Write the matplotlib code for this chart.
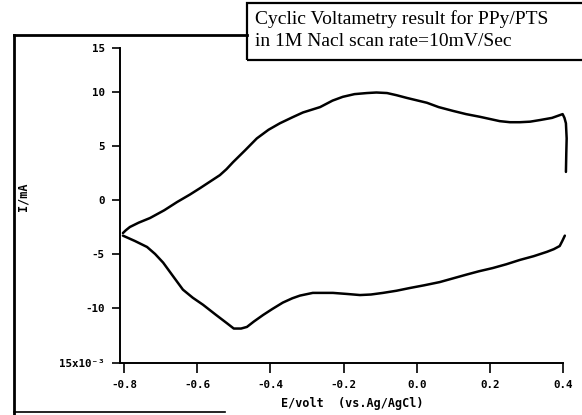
import matplotlib
matplotlib.use("Agg")
import matplotlib.pyplot as plt
from matplotlib.lines import Line2D
from matplotlib.patches import Rectangle

# Forward (anodic) sweep: potential (V) and current (mA)
fwd_E = [-0.803, -0.795, -0.784, -0.760, -0.729, -0.690, -0.655, -0.620, -0.592,
         -0.565, -0.538, -0.520, -0.502, -0.469, -0.437, -0.405, -0.374, -0.340,
         -0.311, -0.264, -0.230, -0.202, -0.170, -0.136, -0.110, -0.081, -0.055,
         -0.027, 0.028, 0.060, 0.099, 0.135, 0.173, 0.200, 0.227, 0.255, 0.282,
         0.310, 0.337, 0.370, 0.399, 0.404, 0.408, 0.410, 0.409, 0.408]
fwd_I = [-3.06, -2.8, -2.5, -2.1, -1.67, -0.95, -0.19, 0.5, 1.1,
         1.7, 2.3, 2.85, 3.5, 4.6, 5.7, 6.5, 7.1, 7.65,
         8.1, 8.6, 9.2, 9.55, 9.8, 9.9, 9.95, 9.9, 9.7,
         9.45, 9.0, 8.6, 8.25, 7.95, 7.7, 7.5, 7.3, 7.2, 7.2,
         7.25, 7.4, 7.6, 7.95, 7.6, 7.1, 5.7, 4.35, 2.6]

# Reverse (cathodic) sweep
rev_E = [0.405, 0.398, 0.391, 0.375, 0.356, 0.320, 0.282, 0.245, 0.208, 0.170,
         0.137, 0.100, 0.063, 0.020, -0.019, -0.055, -0.092, -0.125, -0.155,
         -0.190, -0.229, -0.284, -0.319, -0.340, -0.366, -0.395, -0.420, -0.445,
         -0.464, -0.480, -0.500, -0.519, -0.550, -0.584, -0.612, -0.639, -0.665,
         -0.693, -0.715, -0.737, -0.770, -0.803]
rev_I = [-3.3, -3.8, -4.26, -4.55, -4.8, -5.2, -5.55, -5.95, -6.3, -6.6,
         -6.9, -7.25, -7.6, -7.9, -8.15, -8.4, -8.6, -8.75, -8.8,
         -8.7, -8.6, -8.6, -8.85, -9.1, -9.5, -10.1, -10.65, -11.25,
         -11.75, -11.9, -11.9, -11.4, -10.6, -9.7, -9.05, -8.3, -7.1,
         -5.8, -5.0, -4.35, -3.8, -3.3]

x_ticks = [-0.8, -0.6, -0.4, -0.2, 0.0, 0.2, 0.4]
x_tick_labels = ["-0.8", "-0.6", "-0.4", "-0.2", "0.0", "0.2", "0.4"]
y_top, y_bottom = 14.07, -15.09
y_ticks = [y_top, 10, 5, 0, -5, -10, y_bottom]
y_tick_labels = ["15", "10", "5", "0", "-5", "-10", "15x10\u207b\u00b3"]

title_lines = ["Cyclic Voltametry result for PPy/PTS", "in 1M Nacl scan rate=10mV/Sec"]
x_label = "E/volt  (vs.Ag/AgCl)"
y_label = "I/mA"

W, H = 582, 415
fig = plt.figure(figsize=(W / 100, H / 100), dpi=100)
ax = fig.add_axes([120 / W, 1 - 363 / H, (563 - 120) / W, (363 - 48) / H])

ax.plot(fwd_E, fwd_I, color="black", lw=1.8, solid_joinstyle="round",
        solid_capstyle="round", clip_on=False)
ax.plot(rev_E, rev_I, color="black", lw=1.8, solid_joinstyle="round",
        solid_capstyle="round", clip_on=False)

ax.set_xlim(-0.811, 0.40)
ax.set_ylim(y_bottom, y_top)
for s in ["top", "right"]:
    ax.spines[s].set_visible(False)
for s in ["left", "bottom"]:
    ax.spines[s].set_linewidth(1.4)

mono = ["DejaVu Sans Mono", "DejaVu Sans"]
ax.set_xticks(x_ticks)
ax.set_xticklabels(x_tick_labels, family=mono, fontweight="bold", fontsize=7.8)
ax.set_yticks(y_ticks)
ax.set_yticklabels(y_tick_labels, family=mono, fontweight="bold", fontsize=7.8)
ax.tick_params(axis="x", direction="out", length=7, width=1.2, pad=5)
ax.tick_params(axis="y", direction="out", length=6, width=1.2, pad=5)

fig.text(352 / W, 1 - 403 / H, x_label, family=mono, fontweight="bold",
         fontsize=8.5, ha="center", va="center")
fig.text(23 / W, 1 - 197 / H, y_label, family=mono, fontweight="bold",
         fontsize=8.5, ha="center", va="center", rotation=90)

# page frame lines
fig.add_artist(Line2D([14 / W, 14 / W], [1 - 35 / H, 0], color="black", lw=2.0))
fig.add_artist(Line2D([14 / W, 247 / W], [1 - 35 / H, 1 - 35 / H], color="black", lw=2.0))
fig.add_artist(Line2D([14 / W, 225 / W], [1 - 412 / H, 1 - 412 / H], color="black", lw=1.2))

# title box
fig.add_artist(Rectangle((247 / W, 1 - 60 / H), (W + 5 - 247) / W, 57 / H,
                         transform=fig.transFigure, fill=False, ec="black", lw=1.6))
fig.text(255 / W, 1 - 19 / H, title_lines[0], family="Liberation Serif",
         fontsize=14, ha="left", va="center")
fig.text(255 / W, 1 - 41 / H, title_lines[1], family="Liberation Serif",
         fontsize=14, ha="left", va="center")

fig.savefig("out.png", dpi=100)
